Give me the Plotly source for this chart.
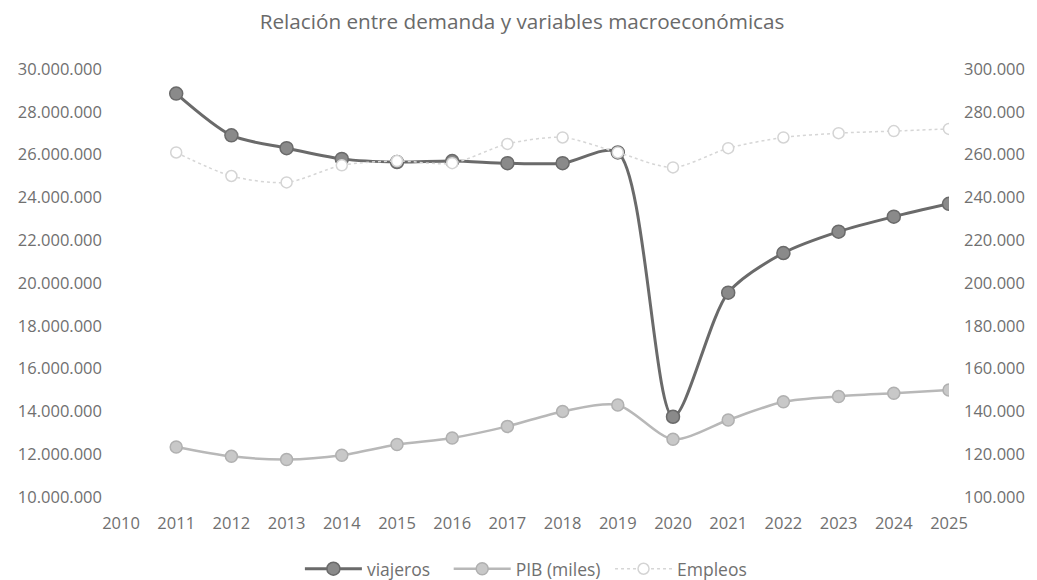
import plotly.graph_objects as go

years = list(range(2011, 2026))
viajeros = [28850000, 26900000, 26300000, 25800000, 25650000, 25700000, 25600000, 25600000,
            26100000, 13750000, 19550000, 21400000, 22400000, 23100000, 23700000]
pib_miles = [12340000, 11900000, 11750000, 11950000, 12450000, 12760000, 13300000, 14000000,
             14300000, 12700000, 13600000, 14450000, 14700000, 14850000, 15000000]
empleos = [261000, 250000, 247000, 255000, 257000, 256000, 265000, 268000,
           261000, 254000, 263000, 268000, 270000, 271000, 272000]

fig = go.Figure()
fig.add_trace(go.Scatter(
    x=years, y=viajeros, name="viajeros\u00a0\u00a0\u00a0", mode="lines+markers",
    line=dict(color="#6a6a6a", width=3, shape="spline", smoothing=0.8),
    marker=dict(size=13, color="#8a8a8a", line=dict(color="#6a6a6a", width=1.5)),
))
fig.add_trace(go.Scatter(
    x=years, y=pib_miles, name="PIB (miles)\u00a0", mode="lines+markers",
    line=dict(color="#b8b8b8", width=2.5, shape="spline", smoothing=0.8),
    marker=dict(size=12, color="#c8c8c8", line=dict(color="#b0b0b0", width=1.5)),
))
fig.add_trace(go.Scatter(
    x=years, y=empleos, name="Empleos", mode="lines+markers", yaxis="y2",
    line=dict(color="#d6d6d6", width=1.5, dash="dot", shape="spline", smoothing=0.8),
    marker=dict(size=11, color="white", line=dict(color="#d4d4d4", width=1.5)),
))

font = "'Open Sans', sans-serif"
fig.update_layout(
    width=1037, height=580,
    paper_bgcolor="white", plot_bgcolor="white",
    margin=dict(l=113, r=96, t=61, b=91),
    title=dict(text="Relación entre demanda y variables macroeconómicas",
               x=0.4957, xanchor="center", y=0.976, yanchor="middle",
               font=dict(family=font, size=20.7, color="#6a6a6a")),
    font=dict(family=font, size=16.5, color="#707070"),
    xaxis=dict(range=[2010, 2025], dtick=1, tick0=2010, showgrid=False, zeroline=False,
               showline=False, ticks="", ticklabelstandoff=14, automargin=False),
    yaxis=dict(range=[10000000, 30000000], dtick=2000000, showgrid=False, zeroline=False,
               showline=False, tickformat=",d", ticklabelstandoff=18, automargin=False),
    yaxis2=dict(range=[100000, 300000], dtick=20000, overlaying="y", side="right",
                showgrid=False, zeroline=False, showline=False, tickformat=",d",
                ticklabelstandoff=14, automargin=False),
    separators=",.",
    legend=dict(orientation="h", x=0.489, xanchor="center",
                yref="container", y=0.033, yanchor="middle",
                font=dict(size=17.5, color="#707070"), itemwidth=57),
    showlegend=True,
)

fig.write_html("out.html")
